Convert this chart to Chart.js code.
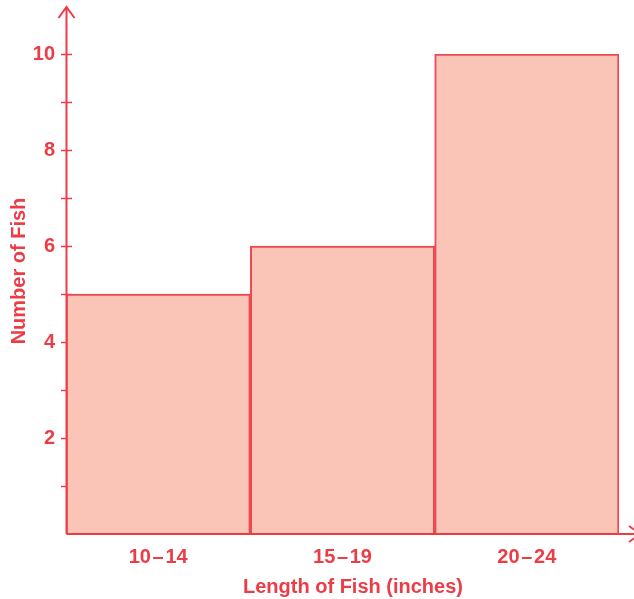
<!DOCTYPE html>
<html>
<head>
<meta charset="utf-8">
<script src="https://cdn.jsdelivr.net/npm/chart.js@4"></script>
<style>
  html, body { margin: 0; padding: 0; background: #fff; }
  canvas { display: block; }
</style>
</head>
<body>
<canvas id="chart" width="634" height="599"></canvas>
<script>
// histogram data
var lengthBins = ['10\u200a\u2013\u200a14', '15\u200a\u2013\u200a19', '20\u200a\u2013\u200a24'];
var fishCounts = [5, 6, 10];
var yTickValues = [2, 4, 6, 8, 10];

var red = '#ec3d47';
var fill = '#fac4b6';
var fontFam = '"Liberation Sans", Arial, sans-serif';

// axes with arrows, ticks and the two axis titles
var axesPlugin = {
	id: 'axesPlugin',
	beforeDatasetsDraw: function (chart) {
		var ctx = chart.ctx, y = chart.scales.y, left = chart.chartArea.left;
		ctx.save();
		ctx.strokeStyle = red;
		ctx.lineWidth = 1.5;
		for (var v = 1; v <= 10; v++) {
			var py = Math.round(y.getPixelForValue(v)) + 0.5;
			ctx.beginPath();
			ctx.moveTo(left - 5, py);
			ctx.lineTo(left + 6, py);
			ctx.stroke();
		}
		ctx.restore();
	},
	afterDatasetsDraw: function (chart) {
		var ctx = chart.ctx, a = chart.chartArea;
		var x0 = a.left + 0.5, y0 = a.bottom;
		ctx.save();
		ctx.strokeStyle = red;
		ctx.lineWidth = 2;
		ctx.beginPath();
		ctx.moveTo(x0, y0);
		ctx.lineTo(x0, 7);
		ctx.moveTo(x0 - 8, 18);
		ctx.lineTo(x0, 7);
		ctx.lineTo(x0 + 8, 18);
		ctx.moveTo(x0, y0);
		ctx.lineTo(640, y0);
		ctx.moveTo(629, y0 - 8);
		ctx.lineTo(640, y0);
		ctx.lineTo(629, y0 + 8);
		ctx.stroke();

		ctx.fillStyle = red;
		ctx.font = 'bold 20px ' + fontFam;
		ctx.textAlign = 'center';
		ctx.textBaseline = 'middle';
		ctx.fillText('Length of Fish (inches)', 353, 587);
		ctx.translate(19, 271);
		ctx.rotate(-Math.PI / 2);
		ctx.fillText('Number of Fish', 0, 0);
		ctx.restore();
	}
};

new Chart(document.getElementById('chart'), {
	type: 'bar',
	data: {
		labels: lengthBins,
		datasets: [{
			data: fishCounts,
			backgroundColor: fill,
			borderColor: '#ee4852',
			borderWidth: 2,
			categoryPercentage: 1,
			barPercentage: 1
		}]
	},
	options: {
		responsive: false,
		animation: false,
		layout: { padding: { top: 54, right: 15, left: 0, bottom: 0 } },
		plugins: { legend: { display: false }, tooltip: { enabled: false } },
		scales: {
			x: {
				grid: { display: false, drawTicks: false },
				border: { display: false },
				ticks: { color: red, padding: 11, font: { family: fontFam, size: 20, weight: 'bold' } },
				afterFit: function (s) { s.height = 65; }
			},
			y: {
				min: 0,
				max: 10,
				grid: { display: false, drawTicks: false },
				border: { display: false },
				ticks: {
					stepSize: 1,
					autoSkip: false,
					color: red,
					padding: 11,
					font: { family: fontFam, size: 20, weight: 'bold' },
					callback: function (v) { return yTickValues.indexOf(v) >= 0 ? v : ''; }
				},
				afterFit: function (s) { s.width = 66; }
			}
		}
	},
	plugins: [axesPlugin]
});
</script>
</body>
</html>
